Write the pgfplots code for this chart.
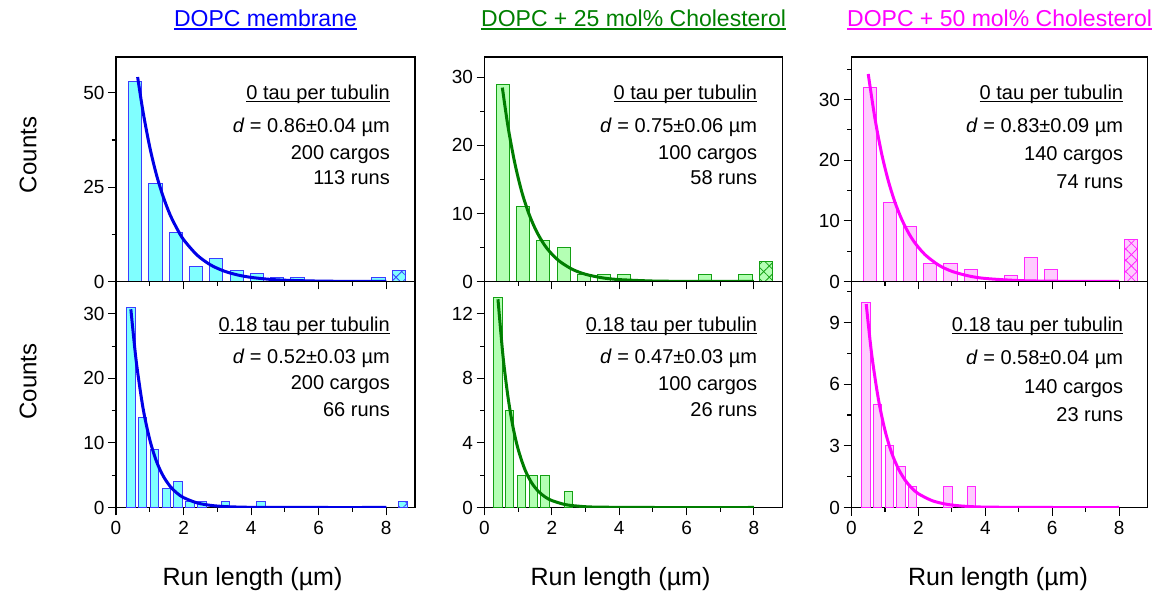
\documentclass[border=0pt]{standalone}
\usepackage{fontspec}
\setmainfont{Liberation Sans}
\usepackage{pgfplots}
\pgfplotsset{compat=1.18}
\usetikzlibrary{patterns.meta}

\definecolor{cyanfill}{RGB}{128,255,255}
\definecolor{blueedge}{RGB}{60,60,255}
\definecolor{bluecurve}{RGB}{0,0,230}
\definecolor{titleblue}{RGB}{0,0,255}
\definecolor{greenfill}{RGB}{180,255,180}
\definecolor{greenedge}{RGB}{20,160,20}
\definecolor{greencurve}{RGB}{0,125,0}
\definecolor{titlegreen}{RGB}{0,128,0}
\definecolor{magfill}{RGB}{255,204,255}
\definecolor{magedge}{RGB}{255,40,255}
\definecolor{magcurve}{RGB}{255,0,255}

\newcommand\ul[3]{\setbox0=\hbox{#3}\rlap{\rule[-#1]{\wd0}{#2}}\box0}

\pgfplotsset{
  panel/.style={
    scale only axis, anchor=south west,
    xmin=0, xmax=8.85, ymin=0,
    xtick={0,2,4,6,8}, minor xtick={1,3,5,7},
    xtick pos=bottom, ytick pos=left,
    tick align=outside,
    major tick length=8pt, minor tick length=4.5pt,
    tick style={black, line width=1.1pt},
    axis line style={line width=1.3pt},
    ticklabel style={font=\fontsize{19}{19}\selectfont},
    xticklabel style={yshift=-2pt},
    /pgf/number format/assume math mode=true,
  },
  toprow/.style={xticklabels={}},
  mybar/.style={ybar, bar shift=0pt, line width=1pt},
  hatch/.style={postaction={pattern={Lines[angle=45,distance=8pt,line width=0.8pt]}, pattern color=#1},
                postaction={pattern={Lines[angle=-45,distance=8pt,line width=0.8pt]}, pattern color=#1}},
  fit/.style={smooth, line width=3pt, no markers},
}

\begin{document}
\begin{tikzpicture}
\path[use as bounding box] (0pt,0pt) rectangle (1156pt,594pt);

% ---------- Panel 1 top
\begin{axis}[panel, toprow, at={(116pt,312.5pt)}, width=299pt, height=224.5pt,
  ymax=59.5, ytick={0,25,50}, minor ytick={12.5,37.5}]
\addplot[mybar, bar width=0.39, fill=cyanfill, draw=blueedge] coordinates
 {(0.57,53) (1.17,26) (1.77,13) (2.37,4) (2.97,6) (3.57,3) (4.17,2) (4.77,1) (5.37,1) (7.77,1)};
\addplot[mybar, bar width=0.39, fill=cyanfill, draw=blueedge, hatch=blueedge] coordinates {(8.37,3)};
\addplot[fit, bluecurve] coordinates
 {(0.64,54.2) (0.8,45.0) (1.0,35.6) (1.2,28.2) (1.4,22.4) (1.6,17.7) (1.8,14.1) (2.0,11.1) (2.4,7.0) (2.8,4.39) (3.2,2.76) (3.6,1.73) (4.0,1.09) (4.5,0.61) (5,0.34) (6,0.11) (7,0.03) (8,0.01)};
\end{axis}

% ---------- Panel 1 bottom
\begin{axis}[panel, at={(116pt,86.5pt)}, width=299pt, height=226pt,
  ymax=35, ytick={0,10,20,30}, minor ytick={5,15,25,35}]
\addplot[mybar, bar width=0.25, fill=cyanfill, draw=blueedge] coordinates
 {(0.44,31) (0.79,14) (1.14,9) (1.49,3) (1.84,4) (2.19,1) (2.54,1) (3.24,1) (4.29,1)};
\addplot[mybar, bar width=0.25, fill=cyanfill, draw=blueedge, hatch=blueedge] coordinates {(8.49,1)};
\addplot[fit, bluecurve] coordinates
 {(0.44,30.7) (0.6,22.6) (0.8,15.4) (1.0,10.5) (1.2,7.12) (1.4,4.85) (1.6,3.30) (1.8,2.25) (2.0,1.53) (2.4,0.71) (2.8,0.33) (3.2,0.15) (3.6,0.07) (4.0,0.03) (5,0.005) (6,0) (8,0)};
\end{axis}

% ---------- Panel 2 top
\begin{axis}[panel, toprow, at={(484.5pt,312.5pt)}, width=298pt, height=224.5pt,
  ymax=33, ytick={0,10,20,30}, minor ytick={5,15,25}]
\addplot[mybar, bar width=0.39, fill=greenfill, draw=greenedge] coordinates
 {(0.55,29) (1.15,11) (1.75,6) (2.35,5) (2.95,1) (3.55,1) (4.15,1) (6.55,1) (7.75,1)};
\addplot[mybar, bar width=0.39, fill=greenfill, draw=greenedge, hatch=greenedge] coordinates {(8.35,3)};
\addplot[fit, greencurve] coordinates
 {(0.53,28.5) (0.7,22.7) (0.9,17.4) (1.1,13.3) (1.3,10.2) (1.5,7.82) (1.7,5.99) (1.9,4.59) (2.2,3.08) (2.6,1.81) (3.0,1.06) (3.5,0.54) (4.0,0.28) (5,0.07) (6,0.02) (7,0.005) (8,0)};
\end{axis}

% ---------- Panel 2 bottom
\begin{axis}[panel, at={(484.5pt,86.5pt)}, width=298pt, height=226pt,
  ymax=14, ytick={0,4,8,12}, minor ytick={2,6,10,14}]
\addplot[mybar, bar width=0.25, fill=greenfill, draw=greenedge] coordinates
 {(0.40,13) (0.75,6) (1.10,2) (1.45,2) (1.80,2) (2.50,1)};
\addplot[fit, greencurve] coordinates
 {(0.40,12.9) (0.55,9.37) (0.7,6.81) (0.85,4.95) (1.0,3.60) (1.2,2.35) (1.4,1.53) (1.6,1.00) (1.8,0.655) (2.0,0.43) (2.4,0.18) (2.8,0.08) (3.2,0.03) (4,0.01) (5,0) (8,0)};
\end{axis}

% ---------- Panel 3 top
\begin{axis}[panel, toprow, at={(851.5pt,312.5pt)}, width=296pt, height=224.5pt,
  ymax=37, ytick={0,10,20,30}, minor ytick={5,15,25,35}]
\addplot[mybar, bar width=0.39, fill=magfill, draw=magedge] coordinates
 {(0.56,32) (1.16,13) (1.76,9) (2.36,3) (2.96,3) (3.56,2) (4.76,1) (5.36,4) (5.96,2)};
\addplot[mybar, bar width=0.39, fill=magfill, draw=magedge, hatch=magedge] coordinates {(8.36,7)};
\addplot[fit, magcurve] coordinates
 {(0.5,34.2) (0.7,26.9) (0.9,21.1) (1.1,16.6) (1.3,13.05) (1.5,10.26) (1.7,8.06) (1.9,6.33) (2.2,4.41) (2.6,2.72) (3.0,1.68) (3.5,0.92) (4.0,0.50) (5,0.15) (6,0.05) (7,0.014) (8,0.004)};
\end{axis}

% ---------- Panel 3 bottom
\begin{axis}[panel, at={(851.5pt,86.5pt)}, width=296pt, height=226pt,
  ymax=11, ytick={0,3,6,9}, minor ytick={1.5,4.5,7.5,10.5}]
\addplot[mybar, bar width=0.25, fill=magfill, draw=magedge] coordinates
 {(0.43,10) (0.78,5) (1.13,3) (1.48,2) (1.83,1) (2.88,1) (3.58,1)};
\addplot[fit, magcurve] coordinates
 {(0.44,9.9) (0.6,7.50) (0.8,5.31) (1.0,3.76) (1.2,2.66) (1.4,1.89) (1.6,1.34) (1.8,0.95) (2.0,0.67) (2.4,0.34) (2.8,0.17) (3.2,0.085) (3.6,0.04) (4,0.02) (5,0.004) (6,0) (8,0)};
\end{axis}

% ---------- titles
\begin{scope}[every node/.style={inner sep=0pt, font=\fontsize{23}{23}\selectfont}]
\node[anchor=base, text=titleblue] at (265.5pt,567pt) {\ul{3pt}{1.5pt}{DOPC membrane}};
\node[anchor=base, text=titlegreen] at (633.6pt,567pt) {\ul{3pt}{1.5pt}{DOPC + 25 mol\% Cholesterol}};
\node[anchor=base, text=magcurve] at (999.6pt,567pt) {\ul{3pt}{1.5pt}{DOPC + 50 mol\% Cholesterol}};
\end{scope}

% ---------- axis labels
\begin{scope}[every node/.style={inner sep=0pt, font=\fontsize{24}{24}\selectfont}]
\node[rotate=90, anchor=center] at (28pt,439pt) {Counts};
\node[rotate=90, anchor=center] at (28pt,212.5pt) {Counts};
\end{scope}
\begin{scope}[every node/.style={inner sep=0pt, anchor=base, font=\fontsize{25}{25}\selectfont}]
\node at (252.5pt,9pt) {Run length (µm)};
\node at (620.5pt,9pt) {Run length (µm)};
\node at (998pt,9pt) {Run length (µm)};
\end{scope}

% ---------- panel annotations
\begin{scope}[every node/.style={inner sep=0pt, anchor=base east, font=\fontsize{20}{20}\selectfont}]
% P1 top
\node at (390pt,494pt) {\ul{2.5pt}{1pt}{0 tau per tubulin}};
\node at (390pt,461.3pt) {\textit{d} = 0.86±0.04 µm};
\node at (390pt,434.7pt) {200 cargos};
\node at (390pt,409pt) {113 runs};
% P2 top
\node at (757.3pt,494pt) {\ul{2.5pt}{1pt}{0 tau per tubulin}};
\node at (757.3pt,461.3pt) {\textit{d} = 0.75±0.06 µm};
\node at (757.3pt,434.7pt) {100 cargos};
\node at (757.3pt,409pt) {58 runs};
% P3 top
\node at (1123.3pt,494pt) {\ul{2.5pt}{1pt}{0 tau per tubulin}};
\node at (1123.3pt,461.3pt) {\textit{d} = 0.83±0.09 µm};
\node at (1123.3pt,433pt) {140 cargos};
\node at (1123.3pt,405pt) {74 runs};
% P1 bottom
\node at (390pt,262.3pt) {\ul{2.5pt}{1pt}{0.18 tau per tubulin}};
\node at (390pt,230pt) {\textit{d} = 0.52±0.03 µm};
\node at (390pt,204pt) {200 cargos};
\node at (390pt,177.3pt) {66 runs};
% P2 bottom
\node at (757.3pt,262.3pt) {\ul{2.5pt}{1pt}{0.18 tau per tubulin}};
\node at (757.3pt,230pt) {\textit{d} = 0.47±0.03 µm};
\node at (757.3pt,203.3pt) {100 cargos};
\node at (757.3pt,177pt) {26 runs};
% P3 bottom
\node at (1123.3pt,262.3pt) {\ul{2.5pt}{1pt}{0.18 tau per tubulin}};
\node at (1123.3pt,229pt) {\textit{d} = 0.58±0.04 µm};
\node at (1123.3pt,200.7pt) {140 cargos};
\node at (1123.3pt,172.3pt) {23 runs};
\end{scope}
\end{tikzpicture}
\end{document}
